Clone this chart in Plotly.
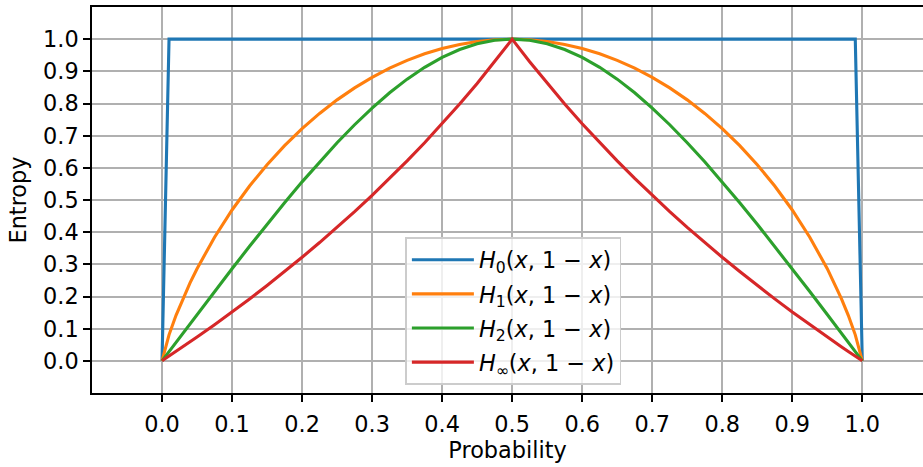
import plotly.graph_objects as go

# x positions (probability)
x_vals = [0.0, 0.01, 0.02, 0.03, 0.04, 0.05, 0.075, 0.1, 0.125, 0.15, 0.175, 0.2, 0.225, 0.25,
          0.275, 0.3, 0.325, 0.35, 0.375, 0.4, 0.425, 0.45, 0.475, 0.5,
          0.525, 0.55, 0.575, 0.6, 0.625, 0.65, 0.675, 0.7, 0.725, 0.75, 0.775, 0.8, 0.825,
          0.85, 0.875, 0.9, 0.925, 0.95, 0.96, 0.97, 0.98, 0.99, 1.0]

h0_vals = [0.0, 1.0, 1.0, 1.0, 1.0, 1.0, 1.0, 1.0, 1.0, 1.0, 1.0, 1.0, 1.0, 1.0,
           1.0, 1.0, 1.0, 1.0, 1.0, 1.0, 1.0, 1.0, 1.0, 1.0,
           1.0, 1.0, 1.0, 1.0, 1.0, 1.0, 1.0, 1.0, 1.0, 1.0, 1.0, 1.0, 1.0,
           1.0, 1.0, 1.0, 1.0, 1.0, 1.0, 1.0, 1.0, 1.0, 0.0]

h1_vals = [0.0, 0.0808, 0.1414, 0.1944, 0.2423, 0.2864, 0.3843, 0.4690, 0.5436, 0.6098, 0.6690,
           0.7219, 0.7692, 0.8113, 0.8485, 0.8813, 0.9097, 0.9341, 0.9544, 0.9710, 0.9837,
           0.9928, 0.9982, 1.0,
           0.9982, 0.9928, 0.9837, 0.9710, 0.9544, 0.9341, 0.9097, 0.8813, 0.8485, 0.8113,
           0.7692, 0.7219, 0.6690, 0.6098, 0.5436, 0.4690, 0.3843, 0.2864, 0.2423, 0.1944,
           0.1414, 0.0808, 0.0]

h2_vals = [0.0, 0.0289, 0.0577, 0.0865, 0.1153, 0.1440, 0.2155, 0.2863, 0.3561, 0.4247, 0.4916,
           0.5564, 0.6187, 0.6781, 0.7340, 0.7859, 0.8333, 0.8757, 0.9125, 0.9434, 0.9679,
           0.9856, 0.9964, 1.0,
           0.9964, 0.9856, 0.9679, 0.9434, 0.9125, 0.8757, 0.8333, 0.7859, 0.7340, 0.6781,
           0.6187, 0.5564, 0.4916, 0.4247, 0.3561, 0.2863, 0.2155, 0.1440, 0.1153, 0.0865,
           0.0577, 0.0289, 0.0]

hinf_vals = [0.0, 0.0145, 0.0291, 0.0439, 0.0589, 0.0740, 0.1125, 0.1520, 0.1926, 0.2345, 0.2775,
             0.3219, 0.3677, 0.4150, 0.4640, 0.5146, 0.5670, 0.6215, 0.6781, 0.7370, 0.7984,
             0.8625, 0.9296, 1.0,
             0.9296, 0.8625, 0.7984, 0.7370, 0.6781, 0.6215, 0.5670, 0.5146, 0.4640, 0.4150,
             0.3677, 0.3219, 0.2775, 0.2345, 0.1926, 0.1520, 0.1125, 0.0740, 0.0589, 0.0439,
             0.0291, 0.0145, 0.0]

series_names = [
    "<i>H</i><sub>0</sub>(<i>x</i>, 1 − <i>x</i>)",
    "<i>H</i><sub>1</sub>(<i>x</i>, 1 − <i>x</i>)",
    "<i>H</i><sub>2</sub>(<i>x</i>, 1 − <i>x</i>)",
    "<i>H</i><sub>∞</sub>(<i>x</i>, 1 − <i>x</i>)",
]
series_colors = ["#1f77b4", "#ff7f0e", "#2ca02c", "#d62728"]

tick_vals = [0.0, 0.1, 0.2, 0.3, 0.4, 0.5, 0.6, 0.7, 0.8, 0.9, 1.0]
tick_text = ["0.0", "0.1", "0.2", "0.3", "0.4", "0.5", "0.6", "0.7", "0.8", "0.9", "1.0"]

FONT = "DejaVu Sans"
FS = 22.4

fig = go.Figure()
for i, (name, ys, col) in enumerate(zip(series_names, [h0_vals, h1_vals, h2_vals, hinf_vals], series_colors)):
    fig.add_trace(go.Scatter(x=x_vals, y=ys, mode="lines", name=name, legendgroup=f"g{i}",
                             line=dict(color=col, width=3.1)))

axis_common = dict(
    showgrid=True, gridcolor="#b0b0b0", gridwidth=1.6,
    zeroline=False, showline=True, linecolor="black", linewidth=1.6,
    ticks="outside", ticklen=7, tickwidth=1.6, tickcolor="black",
    tickfont=dict(family=FONT, size=FS, color="black"),
    tickvals=tick_vals, ticktext=tick_text,
)

fig.update_layout(
    width=923, height=467,
    margin=dict(l=92, r=0, t=7, b=74),
    paper_bgcolor="white", plot_bgcolor="white",
    font=dict(family=FONT, size=FS, color="black"),
    xaxis=dict(range=[-0.1, 1.0867], mirror=True, ticklabelstandoff=3,
               title=dict(text="Probability", font=dict(family=FONT, size=FS, color="black"), standoff=7),
               **axis_common),
    yaxis=dict(range=[-0.1, 1.1], mirror=False,
               title=dict(text="Entropy", font=dict(family=FONT, size=FS, color="black"), standoff=10),
               **axis_common),
    legend=dict(x=0.377, y=0.404, xanchor="left", yanchor="top",
                traceorder="grouped", tracegroupgap=2, itemwidth=62,
                bgcolor="rgba(255,255,255,0.8)", bordercolor="#cccccc", borderwidth=1.6,
                font=dict(family=FONT, size=FS, color="black")),
    showlegend=True,
)

fig.write_html("out.html", config={"displayModeBar": False},
               post_script="document.body.style.margin='0';")
